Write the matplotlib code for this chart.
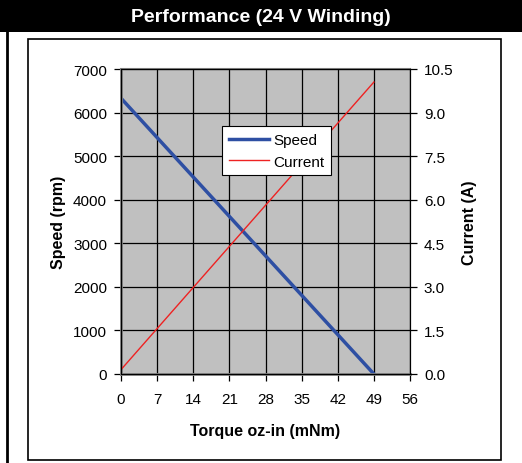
import matplotlib
matplotlib.use('Agg')
import matplotlib.pyplot as plt
from matplotlib.patches import Rectangle
from matplotlib.lines import Line2D

torque = [0, 49]
speed = [6330, 0]
current = [0.15, 10.05]
x_ticks = [0, 7, 14, 21, 28, 35, 42, 49, 56]
speed_ticks = [0, 1000, 2000, 3000, 4000, 5000, 6000, 7000]
current_ticks = [0.0, 1.5, 3.0, 4.5, 6.0, 7.5, 9.0, 10.5]

W, H = 522, 464
fig = plt.figure(figsize=(W / 100, H / 100), dpi=100)
fig.patch.set_facecolor('white')

# Title bar
fig.add_artist(Rectangle((0, 1 - 33 / H), 1, 33 / H, transform=fig.transFigure,
                         facecolor='black', edgecolor='none'))
fig.text(0.5, 1 - 18 / H, 'Performance (24 V Winding)', ha='center', va='center',
         color='white', fontsize=14, fontweight='bold', family='Liberation Sans')

# left frame line and inner box
fig.add_artist(Line2D([7 / W, 7 / W], [0, 1 - 33 / H], transform=fig.transFigure,
                      color='black', lw=2))
fig.add_artist(Rectangle((28 / W, 3 / H), (501 - 28) / W, (461 - 40) / H,
                         transform=fig.transFigure, facecolor='none',
                         edgecolor='black', lw=1.2))

ax = fig.add_axes([121 / W, 1 - 375 / H, (410 - 121) / W, (375 - 70) / H])
ax.set_facecolor('#c0c0c0')
ax.set_xlim(0, 56)
ax.set_ylim(0, 7000)
ax.set_xticks(x_ticks)
ax.set_yticks(speed_ticks)
ax.grid(True, color='black', lw=0.9)
ax.set_axisbelow(True)
for s in ['left', 'bottom']:
    ax.spines[s].set_color('#808080')
    ax.spines[s].set_linewidth(2)
ax.spines['top'].set_color('#808080')
ax.spines['top'].set_linewidth(1.5)
ax.spines['right'].set_color('black')

ax2 = ax.twinx()
ax2.set_ylim(0, 10.5)
ax2.set_yticks(current_ticks)
ax2.set_yticklabels([f'{v:.1f}' for v in current_ticks])
ax2.spines['right'].set_color('black')

l1, = ax.plot(torque, speed, color='#2e4fa3', lw=2.5, label='Speed')
l2, = ax2.plot(torque, current, color='#ee2222', lw=1, label='Current')

for a in (ax, ax2):
    a.tick_params(labelsize=11, length=5, width=0.9, color='black', pad=5)
    a.tick_params(axis='x', pad=8)
    for lab in a.get_xticklabels() + a.get_yticklabels():
        lab.set_family('Liberation Sans')

ax.set_xlabel('Torque oz-in (mNm)', fontsize=11.5, fontweight='bold',
              family='Liberation Sans', labelpad=12)
ax.set_ylabel('Speed (rpm)', fontsize=11.5, fontweight='bold',
              family='Liberation Sans', labelpad=5)
ax2.set_ylabel('Current (A)', fontsize=11.5, fontweight='bold',
               family='Liberation Sans', labelpad=6)

leg = ax2.legend(handles=[l1, l2], loc='upper left',
                 bbox_to_anchor=((222 - 121) / (410 - 121), 1 - (127 - 70) / (375 - 70)),
                 fancybox=False, framealpha=1, edgecolor='black',
                 prop={'family': 'Liberation Sans', 'size': 11},
                 handlelength=2.6, handletextpad=0.3, borderpad=0.45,
                 labelspacing=0.5, borderaxespad=0)
leg.get_frame().set_linewidth(0.8)

fig.savefig('out.png', dpi=100)
